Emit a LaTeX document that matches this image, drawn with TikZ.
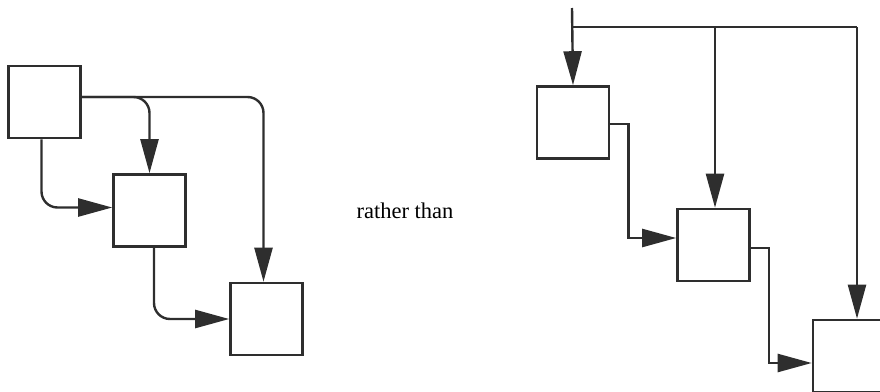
\documentclass[tikz,border=0pt]{standalone}
\usepackage{fontspec}
\setmainfont{Liberation Serif}
\usetikzlibrary{arrows.meta}
\definecolor{ink}{HTML}{2E2E2E}
\begin{document}
\begin{tikzpicture}[x=1pt,y=-1pt,
  blk/.style={draw=ink,line width=2.6pt,fill=white,minimum width=72pt,minimum height=72pt,inner sep=0pt},
  arr/.style={draw=ink,line width=2.4pt,-{Triangle[length=34pt,width=18pt]}},
  ln/.style={draw=ink,line width=2.4pt}]
\useasboundingbox (0,0) rectangle (880,391);
% left diagram
\node[blk] (A) at (44.5,102) {};
\node[blk] (B) at (149.5,210.5) {};
\node[blk] (C) at (266.5,319) {};
\draw[arr,rounded corners=16pt] ([yshift=5pt]A.east) -| (B.north);
\draw[arr,rounded corners=16pt] ([yshift=5pt]A.east) -| ([xshift=-3pt]C.north);
\draw[arr,rounded corners=16pt] ([xshift=-3pt]A.south) |- ([yshift=3pt]B.west);
\draw[arr,rounded corners=16pt] ([xshift=4.5pt]B.south) |- (C.west);
% text
\node[font=\fontsize{22.5}{26}\selectfont,inner sep=0pt] (T) at (405,211) {rather than};
% right diagram
\node[blk] (D) at (573,122.5) {};
\node[blk] (E) at (713.5,245) {};
\node[blk] (F) at (849,356) {};
\coordinate (top) at (572,8);
\coordinate (J) at (572,27);
\draw[arr] (top) -- (D.north);
\draw[ln] (J) -- (857,27);
\draw[arr] (715,27) -- ([xshift=1.5pt]E.north);
\draw[arr] (857,27) -- ([xshift=8pt]F.north);
\draw[arr] ([yshift=-1.5pt]D.east) -- ++(18,0) |- ([yshift=7pt]E.west);
\draw[arr] ([yshift=-3pt]E.east) -- ++(18,0) |- ([yshift=-7pt]F.west);
\end{tikzpicture}
\end{document}
